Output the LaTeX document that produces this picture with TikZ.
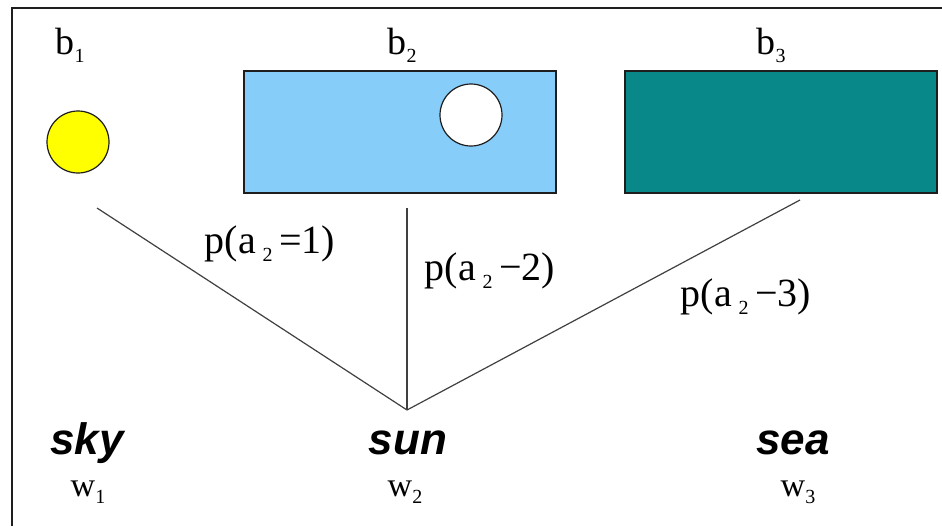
\documentclass[tikz,border=0pt]{standalone}
\usepackage{fontspec}
\setmainfont{Liberation Serif}
\setsansfont{Liberation Sans}
\usepackage{tikz}
\usetikzlibrary{positioning}
\definecolor{sunyel}{RGB}{255,255,0}
\definecolor{skyblu}{RGB}{135,205,250}
\definecolor{seateal}{RGB}{8,136,136}
\definecolor{edgeblk}{RGB}{30,30,30}
\tikzset{
  frm/.style={edgeblk, line width=1.4pt},
  box/.style={draw=edgeblk, line width=1pt, minimum width=156pt, minimum height=61pt, inner sep=0pt},
  disc/.style={circle, draw=edgeblk, line width=0.6pt, minimum size=31pt, inner sep=0pt},
  blab/.style={font=\fontsize{19}{22}\selectfont},
  plab/.style={font=\fontsize{20}{24}\selectfont},
  word/.style={font=\sffamily\bfseries\itshape\fontsize{22}{26}\selectfont},
  wlab/.style={font=\fontsize{17}{20}\selectfont},
  lnk/.style={edgeblk!85, line width=0.6pt},
}
\newcommand{\sub}[1]{\raisebox{-0.45ex}{\fontsize{10}{12}\selectfont#1}}
\begin{document}
\begin{tikzpicture}[x=0.5pt, y=-0.5pt]
 \useasboundingbox (0,0) rectangle (942,526);
 \fill[white] (0,0) rectangle (942,526);
 % frame
 \draw[frm] (12,526) -- (12,8) -- (942,8);
 % images
 \node[disc, fill=sunyel] (sunimg) at (78,142) {};
 \node[box, fill=skyblu] (skyimg) at (400,132) {};
 \node[disc, fill=white] (hole) at (471,115) {};
 \node[box, fill=seateal] (seaimg) at (781,132) {};
 \node[blab] (b1) at (70,45) {b\sub{1}};
 \node[blab] (b2) at (402,45) {b\sub{2}};
 \node[blab] (b3) at (771,45) {b\sub{3}};
 % links
 \coordinate (j) at (407,410);
 \coordinate (s1) at (97,208);
 \coordinate (s2) at (407,208);
 \coordinate (s3) at (800,200);
 \draw[lnk] (s1) -- (j);
 \draw[lnk] (s2) -- (j);
 \draw[lnk] (s3) -- (j);
 \node[plab] (p1) at (270,244) {p(a\,\sub{2}\,=1)};
 \node[plab] (p2) at (490,271) {p(a\,\sub{2}\,−2)};
 \node[plab] (p3) at (746,297) {p(a\,\sub{2}\,−3)};
 % words
 \node[word] (sky) at (87,443) {sky};
 \node[word] (sun) at (408,443) {sun};
 \node[word] (sea) at (793,443) {sea};
 \node[wlab] (w1) at (88,492) {w\sub{1}};
 \node[wlab] (w2) at (405,492) {w\sub{2}};
 \node[wlab] (w3) at (798,492) {w\sub{3}};
\end{tikzpicture}
\end{document}
